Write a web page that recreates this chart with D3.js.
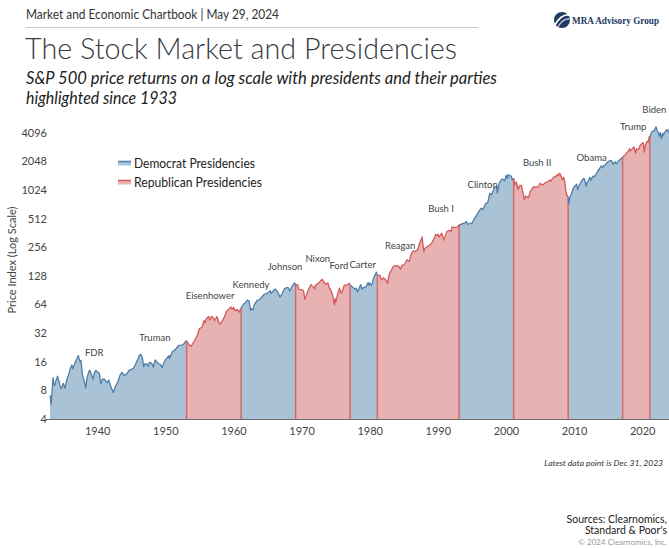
<!DOCTYPE html>
<html>
<head>
<meta charset="utf-8">
<script src="https://cdn.jsdelivr.net/npm/d3@7"></script>
<style>
  html, body { margin: 0; padding: 0; background: #fff; }
  svg { display: block; font-family: Lato, "Noto Sans", sans-serif; }
</style>
</head>
<body>
<svg id="chart" width="669" height="548"></svg>
<script>
// S&P 500 price index (year, level)
const spx = [
  [1933.00, 7.1], [1933.17, 5.7], [1933.30, 7.9], [1933.45, 10.9], [1933.55, 9.3], [1933.70, 9.0], [1933.85, 10.1],
  [1934.00, 10.5], [1934.10, 11.3], [1934.35, 9.8], [1934.55, 8.5], [1934.70, 8.4], [1934.95, 9.5],
  [1935.20, 8.4], [1935.45, 10.3], [1935.70, 11.5], [1935.95, 13.4],
  [1936.20, 14.8], [1936.35, 13.5], [1936.65, 15.5], [1936.95, 17.2],
  [1937.15, 18.6], [1937.40, 16.0], [1937.55, 16.5], [1937.75, 11.8], [1937.95, 10.5],
  [1938.25, 8.5], [1938.45, 11.0], [1938.80, 13.1],
  [1939.05, 12.0], [1939.30, 10.5], [1939.55, 12.5], [1939.75, 13.0], [1939.95, 12.5],
  [1940.25, 12.1], [1940.45, 9.4], [1940.70, 10.5], [1940.95, 10.6],
  [1941.35, 9.6], [1941.60, 10.3], [1941.95, 8.7],
  [1942.30, 7.6], [1942.60, 8.8], [1942.95, 9.8],
  [1943.30, 11.6], [1943.55, 12.4], [1943.90, 11.5],
  [1944.30, 12.0], [1944.60, 13.0], [1944.95, 13.3],
  [1945.25, 13.7], [1945.50, 14.8], [1945.95, 17.4],
  [1946.10, 18.6], [1946.35, 19.2], [1946.60, 17.0], [1946.75, 14.2], [1946.95, 15.3],
  [1947.20, 15.2], [1947.40, 14.3], [1947.60, 15.8], [1947.95, 15.3],
  [1948.15, 14.1], [1948.45, 16.7], [1948.75, 15.8], [1948.95, 15.2],
  [1949.20, 15.0], [1949.45, 13.9], [1949.70, 15.6], [1949.95, 16.8],
  [1950.45, 18.6], [1950.55, 17.3], [1950.95, 20.4],
  [1951.40, 21.5], [1951.75, 23.3], [1951.95, 23.8],
  [1952.40, 24.0], [1952.70, 25.0], [1952.95, 26.6],
  [1953.05, 26.4], [1953.45, 24.0], [1953.70, 23.3], [1953.95, 24.8],
  [1954.30, 27.5], [1954.60, 30.1], [1954.95, 35.9],
  [1955.30, 37.0], [1955.60, 43.5], [1955.75, 41.2], [1955.95, 45.5],
  [1956.30, 48.0], [1956.45, 44.0], [1956.70, 48.0], [1956.95, 46.7],
  [1957.15, 43.5], [1957.50, 47.9], [1957.85, 40.4], [1957.95, 39.9],
  [1958.30, 43.0], [1958.60, 47.5], [1958.95, 55.2],
  [1959.30, 57.5], [1959.55, 60.5], [1959.75, 56.9], [1959.95, 59.9],
  [1960.20, 55.0], [1960.45, 56.9], [1960.80, 53.4], [1960.95, 58.1],
  [1961.05, 58.5], [1961.40, 65.0], [1961.70, 67.0], [1961.95, 71.5],
  [1962.20, 70.0], [1962.45, 55.6], [1962.60, 58.0], [1962.80, 56.5], [1962.95, 63.1],
  [1963.40, 70.8], [1963.70, 71.7], [1963.95, 75.0],
  [1964.40, 81.7], [1964.95, 84.8],
  [1965.35, 89.8], [1965.45, 84.1], [1965.95, 92.4],
  [1966.10, 92.9], [1966.45, 86.1], [1966.75, 76.6], [1966.95, 80.3],
  [1967.40, 94.0], [1967.75, 96.7], [1967.95, 96.5],
  [1968.20, 89.1], [1968.50, 99.6], [1968.90, 108.4],
  [1969.05, 103.0], [1969.35, 103.5], [1969.55, 91.8], [1969.95, 92.1],
  [1970.20, 89.6], [1970.40, 72.7], [1970.55, 78.1], [1970.95, 92.2],
  [1971.30, 103.9], [1971.60, 99.0], [1971.85, 93.9], [1971.95, 102.1],
  [1972.40, 107.7], [1972.95, 118.1],
  [1973.10, 114.2], [1973.45, 104.3], [1973.80, 108.3], [1973.95, 97.6],
  [1974.25, 90.0], [1974.50, 79.3], [1974.75, 63.5], [1974.85, 73.9], [1974.95, 68.6],
  [1975.30, 87.3], [1975.50, 95.2], [1975.70, 83.9], [1975.95, 90.2],
  [1976.20, 102.8], [1976.60, 102.9], [1976.95, 107.5],
  [1977.05, 102.0], [1977.40, 98.4], [1977.80, 92.3], [1977.95, 95.1],
  [1978.15, 87.0], [1978.60, 103.9], [1978.80, 93.2], [1978.95, 96.1],
  [1979.40, 99.0], [1979.70, 109.3], [1979.80, 101.8], [1979.95, 107.9],
  [1980.20, 102.1], [1980.50, 121.7], [1980.90, 140.5],
  [1981.05, 129.5], [1981.40, 131.0], [1981.65, 116.2], [1981.95, 122.6],
  [1982.30, 116.4], [1982.55, 107.1], [1982.80, 133.7], [1982.95, 140.6],
  [1983.40, 162.4], [1983.95, 164.9],
  [1984.25, 160.0], [1984.45, 150.7], [1984.65, 166.7], [1984.95, 167.2],
  [1985.40, 189.6], [1985.75, 182.1], [1985.95, 211.3],
  [1986.30, 235.5], [1986.65, 231.3], [1986.95, 242.2],
  [1987.30, 288.4], [1987.62, 329.8], [1987.80, 251.8], [1987.90, 230.3], [1987.95, 247.1],
  [1988.40, 262.2], [1988.95, 277.7],
  [1989.40, 320.5], [1989.62, 351.5], [1989.80, 340.4], [1989.95, 353.4],
  [1990.10, 329.1], [1990.50, 361.2], [1990.78, 306.1], [1990.95, 330.2],
  [1991.25, 375.2], [1991.60, 387.9], [1991.90, 375.2], [1991.99, 417.1],
  [1992.40, 415.4], [1992.75, 417.8], [1992.95, 435.7],
  [1993.05, 438.8], [1993.40, 450.2], [1993.95, 466.5],
  [1994.10, 481.6], [1994.30, 445.8], [1994.70, 462.7], [1994.90, 453.7],
  [1995.30, 514.7], [1995.65, 562.1], [1995.95, 615.9],
  [1996.30, 661.0], [1996.55, 639.9], [1996.95, 740.7],
  [1997.25, 757.1], [1997.55, 954.3], [1997.80, 914.6], [1997.95, 970.4],
  [1998.30, 1111.8], [1998.55, 1120.7], [1998.65, 957.3], [1998.95, 1229.2],
  [1999.30, 1335.2], [1999.55, 1328.7], [1999.75, 1282.7], [1999.95, 1469.3],
  [2000.15, 1366.4], [2000.25, 1498.6], [2000.45, 1454.6], [2000.70, 1436.5], [2000.85, 1315.2],
  [2001.05, 1366.0], [2001.20, 1160.3], [2001.45, 1255.8], [2001.70, 1040.9], [2001.95, 1148.1],
  [2002.20, 1147.4], [2002.50, 911.6], [2002.60, 815.3], [2002.80, 885.8], [2002.95, 879.8],
  [2003.20, 848.2], [2003.50, 990.3], [2003.95, 1111.9],
  [2004.60, 1101.7], [2004.95, 1211.9],
  [2005.30, 1156.9], [2005.70, 1228.8], [2005.95, 1248.3],
  [2006.40, 1310.6], [2006.50, 1270.2], [2006.95, 1418.3],
  [2007.15, 1406.8], [2007.50, 1503.3], [2007.60, 1455.3], [2007.80, 1549.4], [2007.95, 1468.4],
  [2008.20, 1322.7], [2008.40, 1400.4], [2008.55, 1267.4], [2008.75, 968.8], [2008.85, 896.2], [2008.95, 903.3],
  [2009.05, 860.0], [2009.15, 735.1], [2009.30, 872.8], [2009.50, 919.3], [2009.75, 1057.1], [2009.95, 1115.1],
  [2010.30, 1186.7], [2010.45, 1030.7], [2010.55, 1101.6], [2010.95, 1257.6],
  [2011.30, 1363.6], [2011.45, 1345.2], [2011.70, 1131.4], [2011.85, 1253.3], [2011.95, 1257.6],
  [2012.25, 1397.9], [2012.40, 1310.3], [2012.70, 1440.7], [2012.95, 1426.2],
  [2013.40, 1630.7], [2013.95, 1848.4],
  [2014.10, 1782.6], [2014.60, 1930.7], [2014.95, 2058.9],
  [2015.40, 2107.4], [2015.65, 1920.0], [2015.95, 2043.9],
  [2016.10, 1940.2], [2016.50, 2098.9], [2016.95, 2238.8],
  [2017.05, 2279.0], [2017.40, 2411.8], [2017.75, 2575.3], [2017.95, 2673.6],
  [2018.05, 2823.8], [2018.15, 2640.9], [2018.70, 2913.9], [2018.85, 2711.7], [2018.95, 2506.9],
  [2019.10, 2784.5], [2019.40, 2752.1], [2019.55, 2980.4], [2019.95, 3230.8],
  [2020.10, 3225.5], [2020.20, 2584.6], [2020.40, 3044.3], [2020.65, 3363.0], [2020.80, 3269.9], [2020.95, 3756.1],
  [2021.05, 3714.2], [2021.30, 4181.2], [2021.50, 4297.5], [2021.70, 4307.5], [2021.85, 4605.4], [2021.95, 4766.2],
  [2022.10, 4373.9], [2022.30, 4132.2], [2022.45, 3785.4], [2022.55, 4130.3], [2022.75, 3585.6], [2022.90, 4080.1], [2022.95, 3839.5],
  [2023.20, 4109.3], [2023.50, 4450.4], [2023.80, 4193.8], [2023.90, 4567.8], [2023.99, 4769.8]
];

// party in the White House, by start of term
const terms = [
  { start: 1933.00, end: 1953.05, party: "D" },
  { start: 1953.05, end: 1961.05, party: "R" },
  { start: 1961.05, end: 1969.05, party: "D" },
  { start: 1969.05, end: 1977.05, party: "R" },
  { start: 1977.05, end: 1981.05, party: "D" },
  { start: 1981.05, end: 1993.05, party: "R" },
  { start: 1993.05, end: 2001.05, party: "D" },
  { start: 2001.05, end: 2009.05, party: "R" },
  { start: 2009.05, end: 2017.05, party: "D" },
  { start: 2017.05, end: 2021.05, party: "R" },
  { start: 2021.05, end: 2023.99, party: "D" }
];

// president name labels, anchored at (year, index level)
const presidents = [
  ["FDR", 1939.5, 19.8], ["Truman", 1948.4, 28.5], ["Eisenhower", 1956.5, 79],
  ["Kennedy", 1962.5, 103], ["Johnson", 1967.5, 159], ["Nixon", 1972.3, 193],
  ["Ford", 1975.4, 163], ["Carter", 1978.9, 167], ["Reagan", 1984.4, 265],
  ["Bush I", 1990.4, 649], ["Clinton", 1996.5, 1161], ["Bush II", 2004.5, 1980],
  ["Obama", 2012.5, 2236], ["Trump", 2018.6, 4737], ["Biden", 2021.7, 7140]
];

const yTicks = [4, 8, 16, 32, 64, 128, 256, 512, 1024, 2048, 4096];
const xTicks = [1940, 1950, 1960, 1970, 1980, 1990, 2000, 2010, 2020];

const colors = {
  D: { fill: "#aac2d6", line: "#4f7ea8", label: "Democrat Presidencies" },
  R: { fill: "#e7b2b1", line: "#d45b5d", label: "Republican Presidencies" }
};

const svg = d3.select("#chart");
const x = d3.scaleLinear().domain([1933, 2024]).range([50, 670]);
const y = d3.scaleLog().base(2).domain([4, 4096]).range([419, 133]);

// header
svg.append("text").attr("x", 26).attr("y", 19)
  .attr("textLength", 253).attr("lengthAdjust", "spacingAndGlyphs")
  .style("font-size", "13px").style("fill", "#333")
  .text("Market and Economic Chartbook | May 29, 2024");
svg.append("line").attr("x1", 26).attr("x2", 478).attr("y1", 27.5).attr("y2", 27.5)
  .attr("stroke", "#c8c8c8").attr("stroke-width", 1);

// logo
const logo = svg.append("g").attr("transform", "translate(553,20)");
logo.append("circle").attr("cx", 9).attr("cy", 0).attr("r", 8).attr("fill", "#1d3a63");
logo.append("path").attr("d", "M2,5 Q8,-6 16,-5").attr("fill", "none").attr("stroke", "#fff").attr("stroke-width", 1.6);
logo.append("path").attr("d", "M5,7 Q10,-2 17,-1").attr("fill", "none").attr("stroke", "#c9ced6").attr("stroke-width", 1.2);
logo.append("text").attr("x", 19).attr("y", 3.5)
  .attr("textLength", 87).attr("lengthAdjust", "spacingAndGlyphs")
  .style("font-family", "'Liberation Serif', 'DejaVu Serif', serif").style("font-weight", "bold")
  .style("font-size", "10px").style("fill", "#1d3a63")
  .text("MRA Advisory Group");

// title + subtitle
svg.append("text").attr("x", 25).attr("y", 59)
  .attr("textLength", 432).attr("lengthAdjust", "spacingAndGlyphs")
  .style("font-size", "30px").style("font-weight", 300).style("fill", "#343c45")
  .text("The Stock Market and Presidencies");
svg.append("text").attr("x", 26).attr("y", 84)
  .attr("textLength", 471).attr("lengthAdjust", "spacingAndGlyphs")
  .style("font-size", "18px").style("font-style", "italic").style("fill", "#222")
  .text("S&P 500 price returns on a log scale with presidents and their parties");
svg.append("text").attr("x", 26).attr("y", 104)
  .attr("textLength", 151).attr("lengthAdjust", "spacingAndGlyphs")
  .style("font-size", "18px").style("font-style", "italic").style("fill", "#222")
  .text("highlighted since 1933");

// party areas and lines
const plot = svg.append("g");
const area = d3.area().x(d => x(d[0])).y0(y(4)).y1(d => y(d[1]));
const line = d3.line().x(d => x(d[0])).y(d => y(d[1]));

terms.forEach(t => {
  const pts = spx.filter(d => d[0] >= t.start && d[0] <= t.end);
  plot.append("path").datum(pts).attr("d", area).attr("fill", colors[t.party].fill);
});
terms.slice(1).forEach(t => {
  const p = spx.find(d => d[0] === t.start);
  plot.append("line").attr("x1", x(t.start)).attr("x2", x(t.start))
    .attr("y1", y(p[1])).attr("y2", y(4))
    .attr("stroke", "#d06a6b").attr("stroke-width", 1.5);
});
terms.forEach(t => {
  const pts = spx.filter(d => d[0] >= t.start && d[0] <= t.end);
  plot.append("path").datum(pts).attr("d", line).attr("fill", "none")
    .attr("stroke", colors[t.party].line).attr("stroke-width", 1.3).attr("stroke-linejoin", "round");
});

// axes
svg.append("line").attr("x1", 46).attr("x2", 669).attr("y1", y(4) + 0.5).attr("y2", y(4) + 0.5)
  .attr("stroke", "#6b6b6b").attr("stroke-width", 1);

svg.append("g").selectAll("text").data(yTicks).join("text")
  .attr("x", 47).attr("y", d => y(d)).attr("dy", "0.35em").attr("text-anchor", "end")
  .style("font-size", "11px").style("fill", "#444")
  .text(d => d);

svg.append("g").selectAll("text").data(xTicks).join("text")
  .attr("x", d => x(d)).attr("y", 435).attr("text-anchor", "middle")
  .style("font-size", "11px").style("fill", "#444")
  .text(d => d);

svg.append("text").attr("transform", "translate(16,260) rotate(-90)").attr("text-anchor", "middle")
  .style("font-size", "11px").style("fill", "#444")
  .text("Price Index (Log Scale)");

// president labels
svg.append("g").selectAll("text").data(presidents).join("text")
  .attr("x", d => x(d[1])).attr("y", d => y(d[2])).attr("dy", "0.35em").attr("text-anchor", "middle")
  .style("font-size", "9.5px").style("fill", "#444")
  .text(d => d[0]);

// legend
const legend = svg.append("g").attr("transform", "translate(118,163)");
["D", "R"].forEach((p, i) => {
  const row = legend.append("g").attr("transform", `translate(0,${i * 19})`);
  row.append("rect").attr("x", 0).attr("y", -1.5).attr("width", 13).attr("height", 4).attr("fill", colors[p].fill);
  row.append("line").attr("x1", 0).attr("x2", 13).attr("y1", -1.5).attr("y2", -1.5)
    .attr("stroke", colors[p].line).attr("stroke-width", 1.5);
  row.append("text").attr("x", 16).attr("y", 0).attr("dy", "0.35em")
    .attr("textLength", i === 0 ? 121 : 128).attr("lengthAdjust", "spacingAndGlyphs")
    .style("font-size", "14px").style("fill", "#222")
    .text(colors[p].label);
});

// footer
svg.append("text").attr("x", 663).attr("y", 466).attr("text-anchor", "end")
  .style("font-size", "8.5px").style("font-style", "italic").style("fill", "#333")
  .text("Latest data point is Dec 31, 2023");
svg.append("text").attr("x", 667).attr("y", 523).attr("text-anchor", "end")
  .style("font-size", "10.5px").style("fill", "#222")
  .text("Sources: Clearnomics,");
svg.append("text").attr("x", 667).attr("y", 534).attr("text-anchor", "end")
  .style("font-size", "10.5px").style("fill", "#222")
  .text("Standard & Poor's");
svg.append("text").attr("x", 667).attr("y", 545).attr("text-anchor", "end")
  .style("font-size", "8px").style("fill", "#999")
  .text("© 2024 Clearnomics, Inc.");
</script>
</body>
</html>
